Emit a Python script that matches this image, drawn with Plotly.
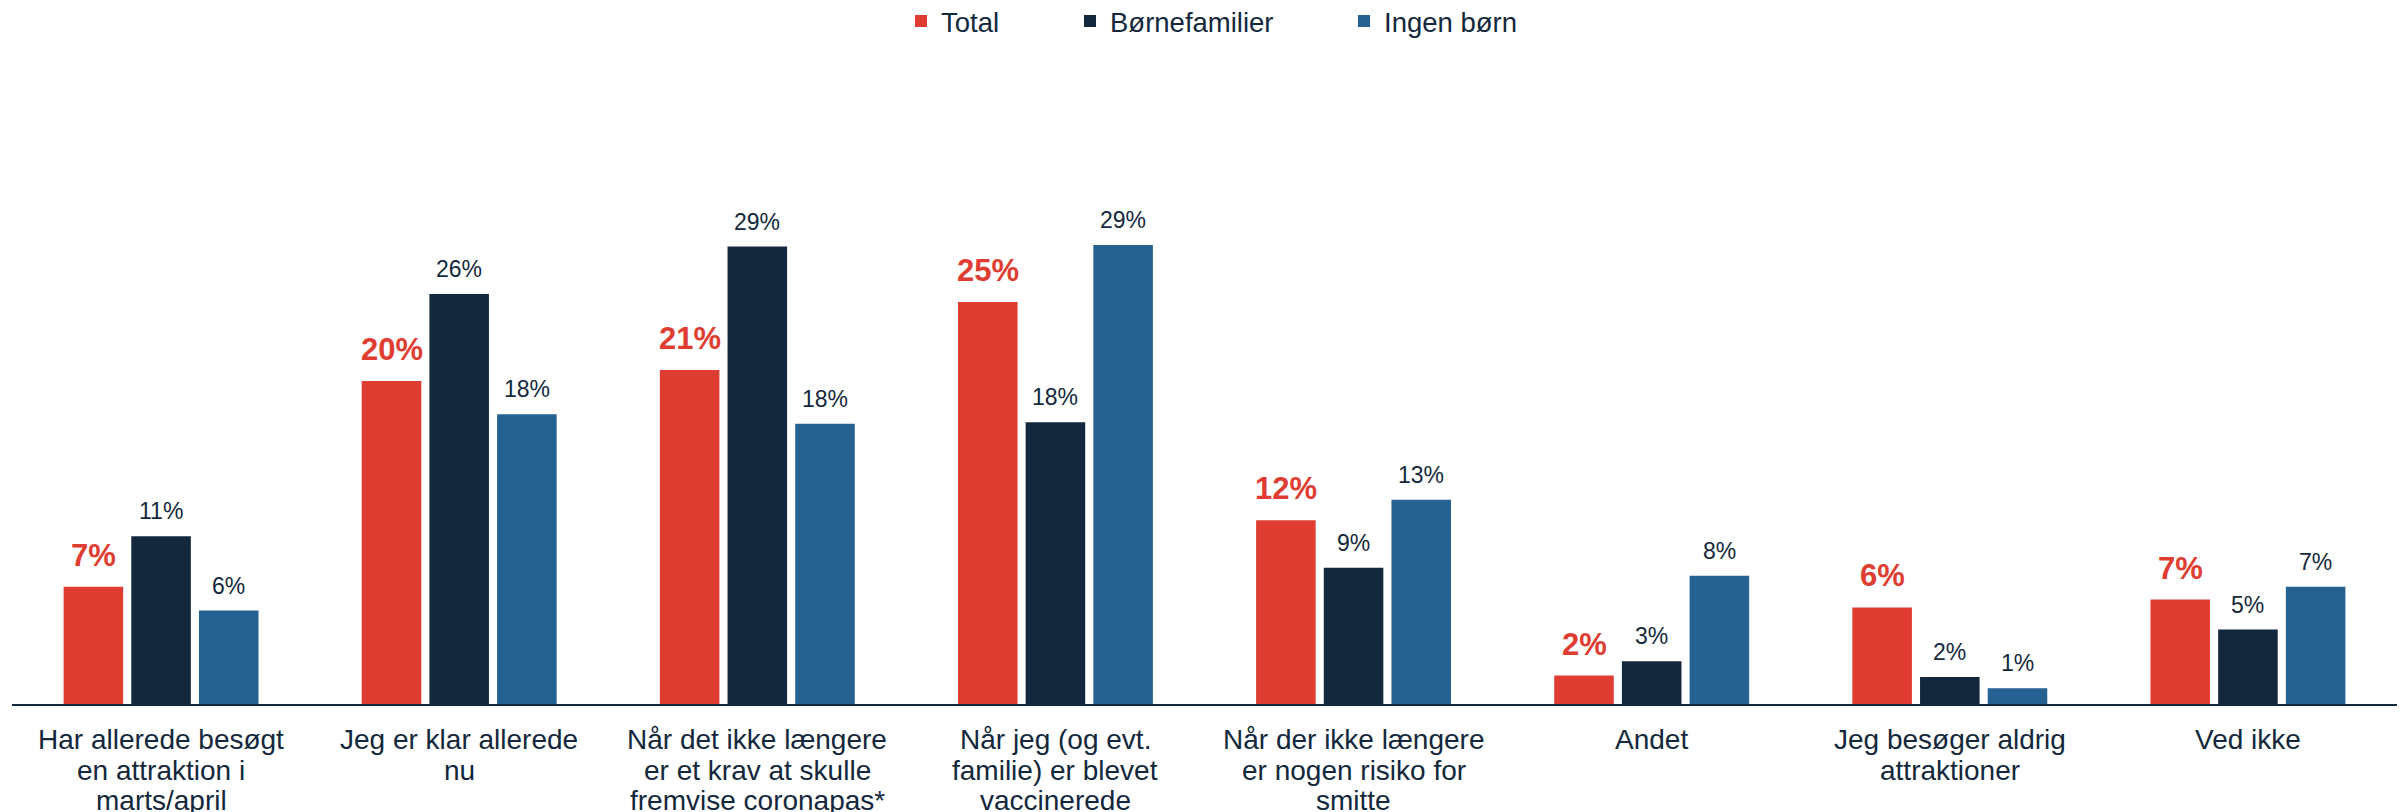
import plotly.graph_objects as go

categories = [
    "Har allerede besøgt<br>en attraktion i<br>marts/april",
    "Jeg er klar allerede<br>nu",
    "Når det ikke længere<br>er et krav at skulle<br>fremvise coronapas*",
    "Når jeg (og evt.<br>familie) er blevet<br>vaccinerede",
    "Når der ikke længere<br>er nogen risiko for<br>smitte",
    "Andet",
    "Jeg besøger aldrig<br>attraktioner",
    "Ved ikke",
]
total = [7.4, 20.4, 21.1, 25.4, 11.6, 1.8, 6.1, 6.6]
boernefamilier = [10.6, 25.9, 28.9, 17.8, 8.6, 2.7, 1.7, 4.7]
ingen_boern = [5.9, 18.3, 17.7, 29.0, 12.9, 8.1, 1.0, 7.4]

series_names = ["Total", "Børnefamilier", "Ingen børn"]
series_values = [total, boernefamilier, ingen_boern]
colors = ["#E03D32", "#13283C", "#256191"]
navy = "#13283C"
font_family = "Arial, Liberation Sans, sans-serif"

W, H = 2402, 812
margin = dict(l=12, r=5, t=60, b=108)
bargap = 0.319
bargroupgap = 0.12
px_per_pct = 15.83
ymax = (H - margin["t"] - margin["b"]) / px_per_pct
label_size = 28
label_first_shift = -18
label_line_step = 30.5

idx = list(range(len(categories)))
slot = (1 - bargap) / len(series_names)

fig = go.Figure()
legend_names = ["legend", "legend2", "legend3"]
legend_x = [901, 1070, 1344]
for j, (name, vals, col) in enumerate(zip(series_names, series_values, colors)):
    fig.add_trace(go.Bar(
        name=name, x=idx, y=vals, marker=dict(color=col, line=dict(width=0)),
        legend=legend_names[j], hoverinfo="skip",
    ))
    for i, v in enumerate(vals):
        is_total = j == 0
        fig.add_annotation(
            x=i + (j - 1) * slot, y=v, xref="x", yref="y",
            text=f"<b>{round(v)}%</b>" if is_total else f"{round(v)}%",
            showarrow=False, yanchor="bottom", yshift=12 if is_total else 10,
            font=dict(family=font_family, size=31 if is_total else 23,
                      color=col if is_total else navy),
        )

# category labels (one annotation per line to keep the tight line spacing)
for i, cat in enumerate(categories):
    for k, line in enumerate(cat.split("<br>")):
        fig.add_annotation(
            x=i, y=0, xref="x", yref="y", text=line, showarrow=False,
            yanchor="top", xanchor="center",
            yshift=label_first_shift - k * label_line_step,
            font=dict(family=font_family, size=label_size, color=navy),
        )

layout_legends = {}
for j, ln in enumerate(legend_names):
    layout_legends[ln] = dict(
        orientation="h", xref="container", yref="container",
        x=legend_x[j] / W, xanchor="left", y=1 - 21 / H, yanchor="middle",
        font=dict(family=font_family, size=27.5, color=navy),
        bgcolor="rgba(0,0,0,0)", borderwidth=0,
    )

fig.update_layout(
    width=W, height=H, margin=margin,
    paper_bgcolor="white", plot_bgcolor="white",
    barmode="group", bargap=bargap, bargroupgap=bargroupgap,
    showlegend=True,
    font=dict(family=font_family, color=navy),
    xaxis=dict(
        tickmode="array", tickvals=idx, showticklabels=False,
        range=[-0.5, len(categories) - 0.5], automargin=False,
        showline=True, linecolor=navy, linewidth=2,
        showgrid=False, zeroline=False, ticks="",
    ),
    yaxis=dict(range=[0, ymax], visible=False, showgrid=False, zeroline=False,
               automargin=False),
    **layout_legends,
)

fig.write_html("out.html", config={"displayModeBar": False},
               post_script="document.body.style.margin='0';")
